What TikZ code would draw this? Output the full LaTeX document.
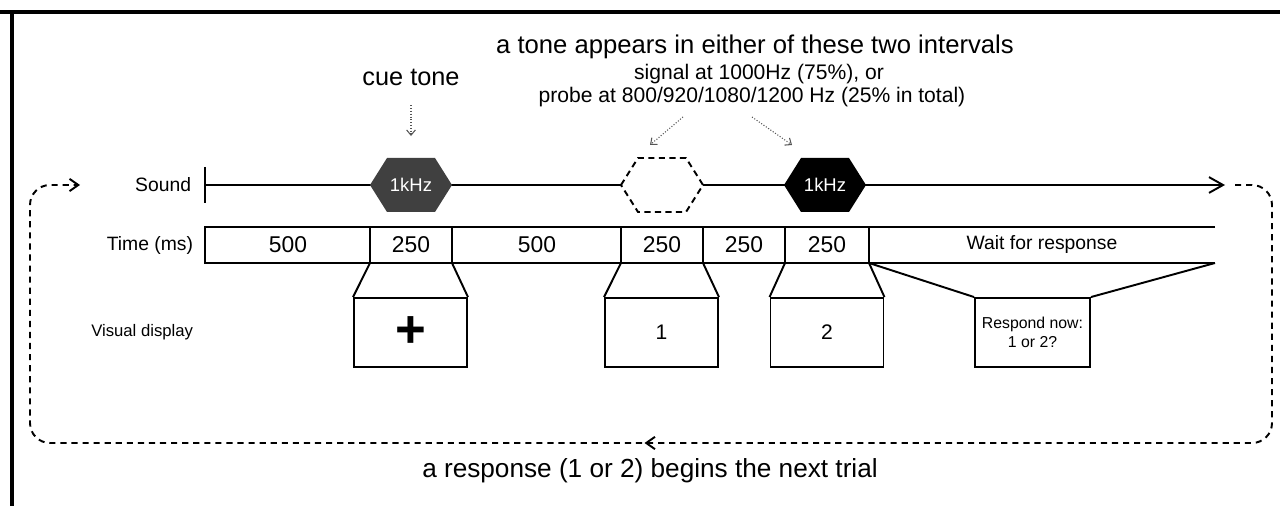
\documentclass[tikz,border=0pt]{standalone}
\usepackage{fontspec}
\setmainfont{Liberation Sans}
\usetikzlibrary{arrows.meta,decorations.markings}

\definecolor{cuegray}{HTML}{404040}
\definecolor{hintgray}{HTML}{555555}

\tikzset{
    tonehex/.pic={
        \path[pic actions] (-41,0) -- (-24,-27) -- (24,-27) -- (41,0)
            -- (24,27) -- (-24,27) -- cycle;
    }
}

\begin{document}
\begin{tikzpicture}[x=0.02cm, y=-0.02cm, line width=1.1pt,
    every node/.style={inner sep=0pt},
    rowlabel/.style={anchor=east, font=\fontsize{11}{13}\selectfont},
    duration/.style={font=\fontsize{13}{15}\selectfont},
    hexlabel/.style={minimum width=1.64cm, minimum height=1.08cm, text=white, font=\fontsize{10.5}{12}\selectfont},
    dispbox/.style={draw, fill=white, minimum width=2.26cm, minimum height=1.38cm, font=\fontsize{12}{14}\selectfont},
    heading/.style={font=\fontsize{14.6}{17}\selectfont},
    subheading/.style={font=\fontsize{12}{14}\selectfont},
    hint/.style={hintgray, line width=0.6pt, densely dotted, -{Straight Barb[length=3pt,width=5pt]}},
    trialloop/.style={line width=1.1pt, dash pattern=on 3.5pt off 2.8pt, rounded corners=0.4cm}]
    \useasboundingbox (0,0) rectangle (1280,506);
    % Frame
    \draw[line width=1.8pt] (0,12) -- (1280,12);
    \draw[line width=1.8pt] (12,12) -- (12,506);
    % Headings
    \node[heading] (intervals) at (755,47) {a tone appears in either of these two intervals};
    \node[subheading] (signal) at (759,74) {signal at 1000Hz (75\%), or};
    \node[subheading] (probe) at (752,97) {probe at 800/920/1080/1200 Hz (25\% in total)};
    \node[heading, font=\fontsize{14.4}{17}\selectfont] (cuetext) at (411,77) {cue tone};
    % Sound
    \node[rowlabel] (sound) at (192,185) {Sound};
    \coordinate (soundstart) at (205,185);
    \coordinate (soundend) at (1225,185);
    \draw (205,167) -- (205,203);
    \draw[-{Straight Barb[length=8pt,width=9pt]}] (soundstart) -- (soundend);
    \pic[fill=cuegray] at (411,185) {tonehex};
    \pic[draw, fill=white, dash pattern=on 3.5pt off 2.5pt] at (662,185) {tonehex};
    \pic[fill=black] at (825,185) {tonehex};
    \node[hexlabel] (cue) at (411,185) {1kHz};
    \node[hexlabel] (first) at (662,185) {};
    \node[hexlabel] (second) at (825,185) {1kHz};
    % Hints
    \draw[hint, shorten <=0.38cm, shorten >=0.42cm] (cuetext) -- (cue.north);
    \coordinate (firsttail) at (683,117);
    \coordinate (firsthead) at (650,145);
    \coordinate (secondtail) at (752,117);
    \coordinate (secondhead) at (792,145);
    \draw[hint] (firsttail) -- (firsthead);
    \draw[hint] (secondtail) -- (secondhead);
    % Time
    \node[rowlabel] (time) at (194,245) {Time (ms)};
    \draw (1215,227) -- (205,227) -- (205,263) -- (1215,263);
    \foreach \x/\name in {370/b1,452/b2,621/b3,703/b4,785/b5,869/b6} {
        \draw (\x,227) -- (\x,263);
        \coordinate (\name) at (\x,263);
    }
    \coordinate (b7) at (1215,263);
    \node[duration] (t1) at (288,245) {500};
    \node[duration] (t2) at (411,245) {250};
    \node[duration] (t3) at (537,245) {500};
    \node[duration] (t4) at (662,245) {250};
    \node[duration] (t5) at (744,245) {250};
    \node[duration] (t6) at (827,245) {250};
    \node[duration, font=\fontsize{11}{13}\selectfont] (t7) at (1042,245) {Wait for response};
    % Visual display
    \node[rowlabel, font=\fontsize{9.5}{11}\selectfont] (visual) at (194,332) {Visual display};
    \node[dispbox, font=\fontsize{30}{30}\selectfont\bfseries] (fixation) at (410.5,332.5) {+};
    \node[dispbox] (one) at (661.5,332.5) {1};
    \node[dispbox] (two) at (827,332.5) {2};
    \node[dispbox, minimum width=2.3cm, align=center, font=\fontsize{9}{11}\selectfont] (respond) at (1032.5,332.5) {Respond now:\\1 or 2?};
    \draw (b1) -- (fixation.north west);
    \draw (b2) -- (fixation.north east);
    \draw (b3) -- (one.north west);
    \draw (b4) -- (one.north east);
    \draw (b5) -- (two.north west);
    \draw (b6) -- (two.north east);
    \draw (b6) -- (respond.north west);
    \draw (b7) -- (respond.north east);
    % Next trial
    \coordinate (loopstart) at (1235,185);
    \coordinate (loopend) at (80,185);
    \draw[trialloop, -{Straight Barb[length=5pt,width=7pt]},
        postaction={decorate}, decoration={markings,
        mark=at position 0.5 with {\arrow{Straight Barb[length=5pt,width=7pt]}}}]
        (loopstart) -- (1272,185) -- (1272,443) -- (30,443) -- (30,185) -- (loopend);
    \node[heading, font=\fontsize{14.9}{17}\selectfont] (nexttrial) at (650,471) {a response (1 or 2) begins the next trial};
\end{tikzpicture}
\end{document}
